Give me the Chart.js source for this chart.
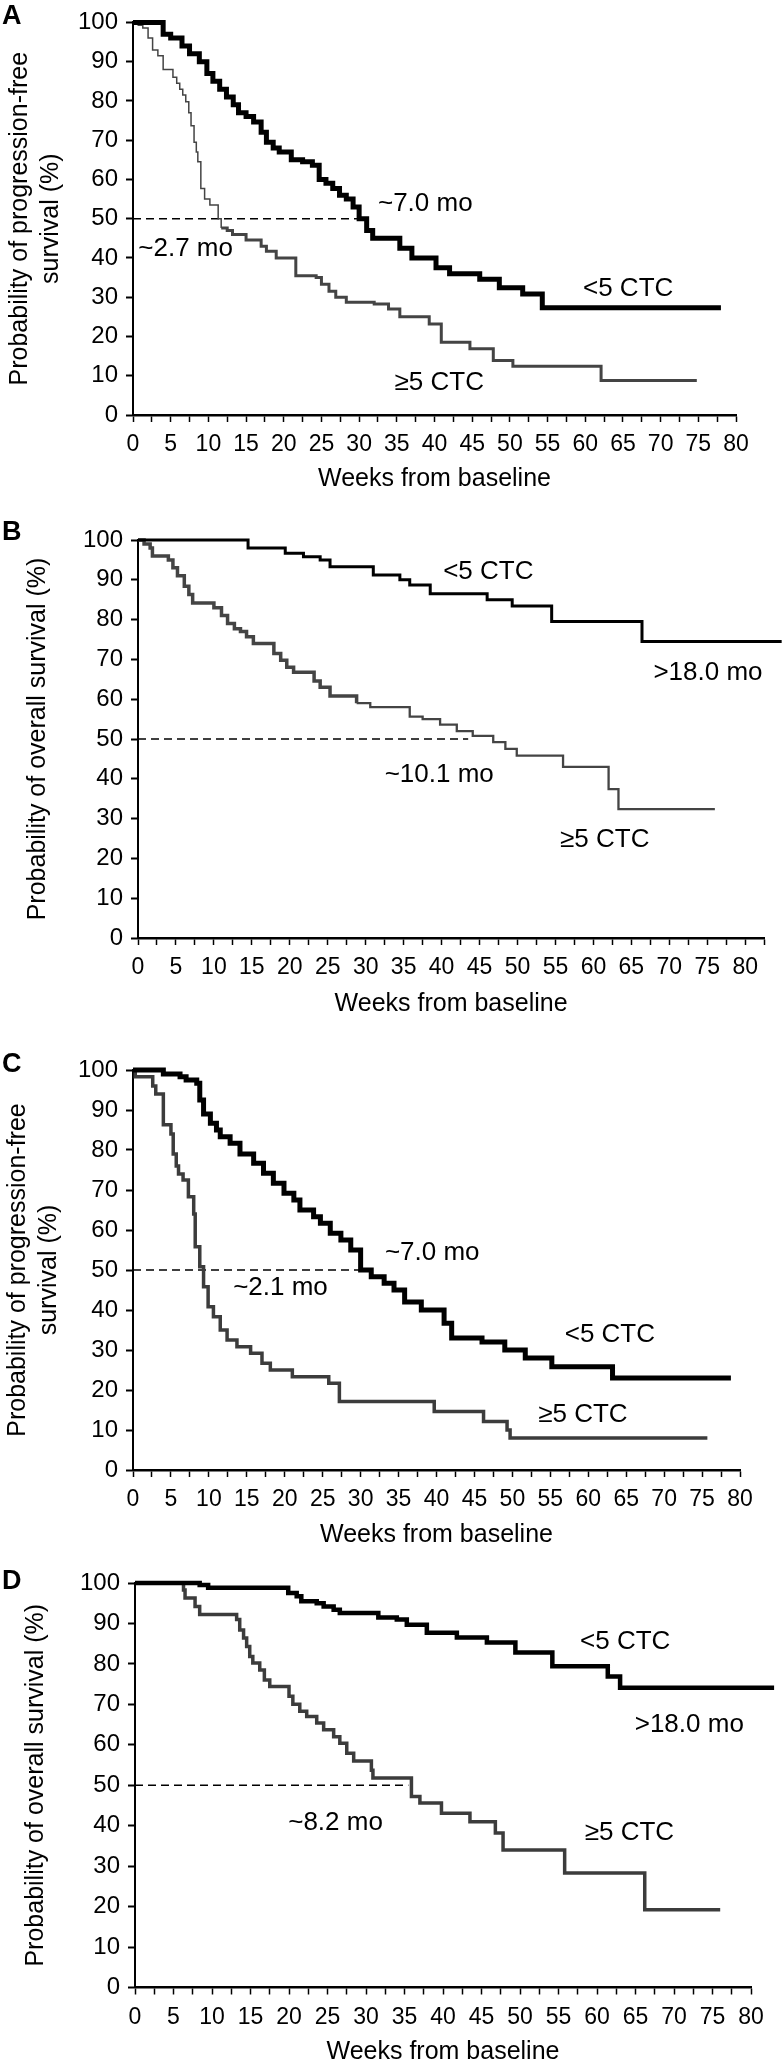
<!DOCTYPE html>
<html>
<head>
<meta charset="utf-8">
<script src="https://cdn.jsdelivr.net/npm/chart.js@4.4.1/dist/chart.umd.min.js"></script>
<style>
    html, body { margin: 0; padding: 0; background: #fff; }
    body { width: 782px; height: 2065px; position: relative; overflow: hidden; }
    canvas { position: absolute; left: 0; }
</style>
</head>
<body>
<canvas id="chart-a"></canvas>
<canvas id="chart-b"></canvas>
<canvas id="chart-c"></canvas>
<canvas id="chart-d"></canvas>
<script>
// weeks from baseline / survival (%)
const aLowWeeks = [0, 4, 5, 6.5, 7.5, 8.8, 9.8, 10.6, 11.5, 12.4, 13.3, 14, 15, 16, 17, 17.7, 18.6, 19.4, 21, 22.5, 23.8, 24.7, 25.6, 26.5, 27.4, 28.3, 29.2, 30, 31, 31.8, 35.4, 37, 40.2, 42, 46, 48.6, 51.7, 54.3, 78];
const aLowPct = [100, 97, 96, 94, 92, 90, 87, 85, 83, 81, 79, 77, 76, 74.6, 72, 69.5, 68, 67, 65, 64.5, 63.6, 60, 59, 57.7, 56, 55, 53, 50, 47, 45, 42.5, 40, 37.5, 36, 34.6, 32.4, 30.8, 27.3, 27.3];
const aHighWeeks = [0, 0.7, 1.3, 2, 2.6, 3.3, 4, 5.3, 5.8, 6.2, 6.6, 7, 7.4, 7.7, 8.1, 8.4, 8.6, 9, 9.5, 10.2, 11.3, 11.7, 12.5, 13.2, 15, 17, 17.7, 19, 21.6, 24.3, 25, 26, 26.9, 28.3, 32, 33.9, 35.4, 39.3, 40.9, 44.7, 47.8, 50.4, 62.1, 74.8];
const aHighPct = [100, 99.3, 98.6, 96, 93, 91.5, 88, 86, 84.5, 83, 81.5, 79.8, 77, 73.7, 69.5, 67, 64.5, 57.7, 55, 53.5, 50, 47.6, 47, 46, 44.6, 43, 41.7, 40, 35.5, 35, 33.3, 31.5, 30, 28.7, 28.3, 27, 25, 23.2, 18.5, 16.9, 13.9, 12.4, 8.8, 8.8];

const bLowWeeks = [0, 14.5, 19.4, 21.8, 24, 25.3, 31, 34.5, 35.8, 38.5, 46, 49.3, 54.5, 66.4, 84.8];
const bLowPct = [100, 98, 96.7, 95.8, 95, 93.3, 91.2, 90, 88.7, 86.5, 85, 83.4, 79.5, 74.5, 74.5];
const bHighWeeks = [0, 0.8, 1.6, 1.9, 4, 4.6, 5.2, 6.1, 6.7, 7.2, 10, 11, 11.8, 12.7, 13.5, 14.3, 15.2, 17.9, 18.8, 19.6, 20.5, 23.2, 24, 25.3, 28.8, 30.6, 35.8, 37.5, 39.8, 42, 44.1, 46.8, 48.4, 49.9, 56, 62, 63.3, 76];
const bHighPct = [100, 99, 98, 96, 95, 93, 91, 88.4, 86.3, 84.2, 83, 81, 79, 77.7, 77, 75.7, 74, 71.5, 69.8, 68, 66.8, 64.6, 63, 60.8, 59, 58, 55.6, 55, 53.6, 52, 50.8, 49.2, 47.5, 45.8, 43, 37.4, 32.4, 32.4];

const cLowWeeks = [0, 4, 6.2, 7, 8.4, 8.8, 9.3, 10.2, 11, 11.5, 12.8, 14.1, 15.9, 17.2, 18.5, 19.9, 21.2, 22, 23.8, 24.7, 26, 27.4, 28.7, 30, 31.4, 33.1, 34.4, 35.8, 38, 41, 42, 46, 49, 51.7, 55.2, 63.2, 78.8];
const cLowPct = [100, 99, 98.3, 97.5, 96.7, 92.5, 89, 86.7, 85, 83.3, 81.7, 79, 76.7, 74.2, 71.7, 69.2, 67.5, 65, 63.3, 61.7, 59.2, 57.5, 55, 50, 48.3, 46.7, 45, 42, 40, 36.7, 33, 32, 30, 28, 25.8, 23, 23];
const cHighWeeks = [0, 0.3, 2.6, 3, 4, 5, 5.3, 5.7, 6, 6.6, 7.3, 8, 8.2, 8.8, 9.3, 9.9, 10.6, 11.5, 12.4, 13.7, 15.5, 17, 18.1, 21, 25.8, 27.2, 39.7, 46.2, 49.3, 49.7, 75.7];
const cHighPct = [100, 98.3, 96, 94, 86.3, 84, 79, 76, 74, 72.5, 68.3, 64, 55.8, 50.8, 45.8, 40.8, 38.3, 35, 32.5, 30.8, 29.2, 26.7, 25, 23.3, 21.7, 17.1, 14.6, 12.1, 10, 8, 8];

const dLowWeeks = [0, 8.4, 9.5, 19.9, 21, 21.6, 23.6, 24.5, 25.8, 26.6, 31.6, 34, 35.3, 37.9, 41.8, 45.7, 49.4, 54.2, 61.4, 63, 83];
const dLowPct = [100, 99.5, 98.8, 97.5, 96.7, 95.5, 95, 94.2, 93.4, 92.6, 91.5, 91, 89.7, 87.7, 86.5, 85.3, 82.8, 79.4, 76.9, 74.1, 74.1];
const dHighWeeks = [0, 6.3, 6.5, 7.8, 8.4, 13.2, 13.6, 14.1, 14.5, 14.9, 15.3, 16.2, 16.8, 17.5, 20, 20.5, 21.4, 22.3, 23.6, 24.5, 25.8, 26.6, 27.5, 28.4, 30.7, 30.9, 35.9, 37, 39.8, 43.5, 46.8, 47.8, 55.8, 66.2, 76];
const dHighPct = [100, 98.3, 96.3, 94.2, 92.2, 91, 88.4, 86.4, 84.3, 81.8, 80.2, 78.5, 76, 74.4, 72, 70, 68.3, 67, 65.4, 63.7, 62, 60.4, 57.9, 56, 53.7, 51.8, 47.2, 45.6, 43.1, 41, 38.2, 34, 28.3, 19.2, 19.2];

// median marks (weeks) drawn as the dashed 50% line
const medianWeeks = [30, 43.5, 30, 35.5];
const halfPct = 50;

const yTickLabels = [0, 10, 20, 30, 40, 50, 60, 70, 80, 90, 100];
const xTickLabels = [0, 5, 10, 15, 20, 25, 30, 35, 40, 45, 50, 55, 60, 65, 70, 75, 80];

const FONT = '"Liberation Sans", Arial, Helvetica, sans-serif';

const toPoints = (weeks, pct) => weeks.map((w, i) => ({ x: w, y: pct[i] }));

const panelText = {
    id: 'panelText',
    afterDatasetsDraw(chart, args, opts) {
        const { ctx, scales: { x, y } } = chart;
        ctx.save();
        ctx.fillStyle = '#000';
        ctx.textAlign = 'left';
        ctx.textBaseline = 'middle';
        ctx.font = `26px ${FONT}`;
        opts.notes.forEach(n => {
            ctx.fillText(n.text, x.getPixelForValue(n.x), y.getPixelForValue(n.y));
        });
        ctx.font = `bold 27px ${FONT}`;
        ctx.fillText(opts.letter, 2, opts.letterY);
        ctx.restore();
    }
};

function drawPanel(id, p) {
    const canvas = document.getElementById(id);
    canvas.width = 782;
    canvas.height = p.height;
    canvas.style.top = p.top + 'px';
    canvas.style.width = '782px';
    canvas.style.height = p.height + 'px';

    const titleLines = Array.isArray(p.yTitle) ? p.yTitle.length : 1;

    new Chart(canvas, {
        type: 'line',
        data: {
            datasets: [
                {
                    data: toPoints(p.lowWeeks, p.lowPct),
                    stepped: true,
                    borderColor: '#000',
                    borderWidth: p.lowWidth,
                    borderJoinStyle: 'miter',
                    pointRadius: 0,
                    fill: false,
                    clip: false
                },
                {
                    data: toPoints(p.highWeeks, p.highPct),
                    stepped: true,
                    borderColor: p.highColor,
                    borderWidth: p.highWidth,
                    borderJoinStyle: 'miter',
                    segment: {
                        borderWidth: c => c.p0.parsed.x < p.thinUntil ? p.thinWidth : p.highWidth
                    },
                    pointRadius: 0,
                    fill: false,
                    clip: false
                },
                {
                    data: [{ x: 0, y: halfPct }, { x: p.median, y: halfPct }],
                    borderColor: '#000',
                    borderWidth: 1.5,
                    borderDash: [8, 5],
                    pointRadius: 0,
                    fill: false
                }
            ]
        },
        options: {
            responsive: false,
            animation: false,
            events: [],
            layout: {
                padding: { top: p.plotTop - p.top, right: 782 - p.plotRight, left: 0, bottom: 0 }
            },
            plugins: {
                legend: { display: false },
                tooltip: { enabled: false },
                panelText: { notes: p.notes, letter: p.letter, letterY: p.letterY }
            },
            scales: {
                x: {
                    type: 'linear',
                    min: 0,
                    max: p.xMax,
                    afterFit: s => { s.height = p.top + p.height - p.plotBottom; },
                    border: { display: true, color: '#000', width: 2.5 },
                    grid: { drawOnChartArea: false, drawTicks: true, tickLength: 7, tickWidth: 1.5, tickColor: '#000' },
                    ticks: {
                        stepSize: 2.5,
                        autoSkip: false,
                        maxRotation: 0,
                        padding: 9,
                        color: '#000',
                        font: { family: FONT, size: 23 },
                        callback: v => xTickLabels.includes(v) ? String(v) : ''
                    },
                    title: {
                        display: true,
                        text: 'Weeks from baseline',
                        color: '#000',
                        font: { family: FONT, size: 25, lineHeight: 1.2 },
                        padding: { top: 0, bottom: (p.top + p.height) - p.xTitleY - 15 }
                    }
                },
                y: {
                    min: 0,
                    max: 100,
                    afterFit: s => { s.width = p.plotLeft; },
                    border: { display: true, color: '#000', width: 2 },
                    grid: { drawOnChartArea: false, drawTicks: true, tickLength: 7, tickWidth: 2, tickColor: '#000' },
                    ticks: {
                        stepSize: 10,
                        padding: 8,
                        color: '#000',
                        font: { family: FONT, size: 24 },
                        callback: v => yTickLabels.includes(v) ? String(v) : ''
                    },
                    title: {
                        display: true,
                        text: p.yTitle,
                        color: '#000',
                        font: { family: FONT, size: 25, lineHeight: 1.24 },
                        padding: { top: p.yTitleX - 15.5, bottom: 0 }
                    }
                }
            }
        },
        plugins: [panelText]
    });
}

drawPanel('chart-a', {
    top: 0, height: 510,
    plotLeft: 133, plotRight: 736, plotTop: 19.5, plotBottom: 415, xMax: 80,
    xTitleY: 479, yTitleX: 20,
    yTitle: ['Probability of progression-free', 'survival (%)'],
    lowWeeks: aLowWeeks, lowPct: aLowPct, lowWidth: 5,
    highWeeks: aHighWeeks, highPct: aHighPct, highWidth: 3, highColor: '#444',
    thinUntil: 11.7, thinWidth: 1.5,
    median: medianWeeks[0],
    letter: 'A', letterY: 17,
    notes: [
        { text: '~7.0 mo', x: 32.5, y: 53.9 },
        { text: '~2.7 mo', x: 0.7, y: 42.2 },
        { text: '<5 CTC', x: 59.7, y: 32.1 },
        { text: '\u22655 CTC', x: 34.7, y: 8.1 }
    ]
});

drawPanel('chart-b', {
    top: 510, height: 520,
    plotLeft: 138, plotRight: 764.2, plotTop: 540, plotBottom: 938, xMax: 82.5,
    xTitleY: 1004, yTitleX: 38,
    yTitle: 'Probability of overall survival (%)',
    lowWeeks: bLowWeeks, lowPct: bLowPct, lowWidth: 3,
    highWeeks: bHighWeeks, highPct: bHighPct, highWidth: 2.3, highColor: '#444',
    thinUntil: 27, thinWidth: 3.5,
    median: medianWeeks[1],
    letter: 'B', letterY: 23,
    notes: [
        { text: '<5 CTC', x: 40.2, y: 92 },
        { text: '>18.0 mo', x: 67.9, y: 66.6 },
        { text: '~10.1 mo', x: 32.5, y: 41 },
        { text: '\u22655 CTC', x: 55.6, y: 24.6 }
    ]
});

drawPanel('chart-c', {
    top: 1030, height: 520,
    plotLeft: 133, plotRight: 740, plotTop: 1070, plotBottom: 1470, xMax: 80,
    xTitleY: 1535, yTitleX: 18,
    yTitle: ['Probability of progression-free', 'survival (%)'],
    lowWeeks: cLowWeeks, lowPct: cLowPct, lowWidth: 5,
    highWeeks: cHighWeeks, highPct: cHighPct, highWidth: 3.5, highColor: '#3c3c3c',
    thinUntil: 0, thinWidth: 3.5,
    median: medianWeeks[2],
    letter: 'C', letterY: 35,
    notes: [
        { text: '~7.0 mo', x: 33.2, y: 54.3 },
        { text: '~2.1 mo', x: 13.2, y: 45.5 },
        { text: '<5 CTC', x: 56.9, y: 33.8 },
        { text: '\u22655 CTC', x: 53.4, y: 13.8 }
    ]
});

drawPanel('chart-d', {
    top: 1550, height: 515,
    plotLeft: 135, plotRight: 751, plotTop: 1583, plotBottom: 1987.5, xMax: 80,
    xTitleY: 2052, yTitleX: 36,
    yTitle: 'Probability of overall survival (%)',
    lowWeeks: dLowWeeks, lowPct: dLowPct, lowWidth: 4.5,
    highWeeks: dHighWeeks, highPct: dHighPct, highWidth: 3.5, highColor: '#3c3c3c',
    thinUntil: 0, thinWidth: 3.5,
    median: medianWeeks[3],
    letter: 'D', letterY: 32,
    notes: [
        { text: '<5 CTC', x: 57.8, y: 85.5 },
        { text: '>18.0 mo', x: 64.9, y: 65 },
        { text: '\u22655 CTC', x: 58.4, y: 38.2 },
        { text: '~8.2 mo', x: 19.9, y: 40.7 }
    ]
});
</script>
</body>
</html>
